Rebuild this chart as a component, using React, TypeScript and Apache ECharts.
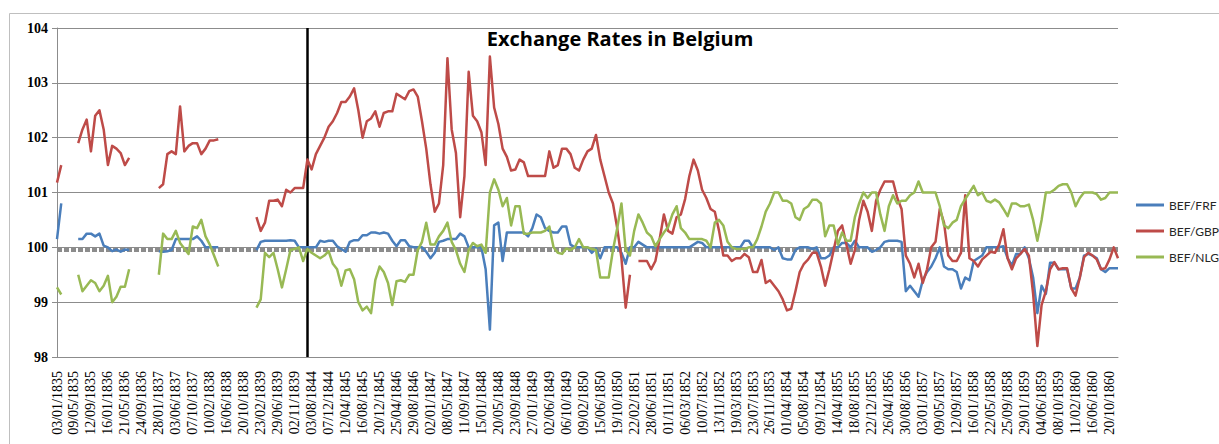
import React, { useEffect, useRef } from "react";
import * as echarts from "echarts";

// Tick labels (one every 4 data steps on the x axis)
const dateLabels = [
  "03/01/1835", "09/05/1835", "12/09/1835", "16/01/1836", "21/05/1836", "24/09/1836",
  "28/01/1837", "03/06/1837", "07/10/1837", "10/02/1838", "16/06/1838", "20/10/1838",
  "23/02/1839", "29/06/1839", "02/11/1839", "03/08/1844", "07/12/1844", "12/04/1845",
  "16/08/1845", "20/12/1845", "25/04/1846", "29/08/1846", "02/01/1847", "08/05/1847",
  "11/09/1847", "15/01/1848", "20/05/1848", "23/09/1848", "27/01/1849", "02/06/1849",
  "06/10/1849", "09/02/1850", "15/06/1850", "19/10/1850", "22/02/1851", "28/06/1851",
  "01/11/1851", "06/03/1852", "10/07/1852", "13/11/1852", "19/03/1853", "23/07/1853",
  "26/11/1853", "01/04/1854", "05/08/1854", "09/12/1854", "14/04/1855", "18/08/1855",
  "22/12/1855", "26/04/1856", "30/08/1856", "03/01/1857", "09/05/1857", "12/09/1857",
  "16/01/1858", "22/05/1858", "25/09/1858", "29/01/1859", "04/06/1859", "08/10/1859",
  "11/02/1860", "16/06/1860", "20/10/1860",
];
const STEPS_PER_LABEL = 4;
const LAST_STEP = 250;
const BREAK_STEP = 58.85;
const PAR_LEVEL = 99.95;

const seriesNames = ["BEF/FRF", "BEF/GBP", "BEF/NLG"];

const frf = [
  100.15, 100.8, null, null, null, 100.15, 100.15, 100.25, 100.25, 100.2,
  100.25, 100.03, 100.0, 99.93, 99.96, 99.92, 99.96, 99.95, null, null,
  null, null, null, null, 99.93, 99.92, 99.93, 99.95, 100.15, 100.15,
  100.15, 100.15, 100.15, 100.2, 100.12, 100.0, 100.0, 100.0, 100.0, null,
  null, null, null, null, null, null, null, 99.95, 100.1, 100.12,
  100.12, 100.12, 100.12, 100.12, 100.12, 100.13, 100.12, 100.0, 100.0, 100.0,
  100.0, 100.0, 100.12, 100.1, 100.12, 100.12, 100.02, 99.97, 99.92, 100.1,
  100.13, 100.13, 100.22, 100.22, 100.27, 100.27, 100.25, 100.27, 100.25, 100.12,
  100.02, 100.13, 100.13, 100.02, 100.0, 100.0, 100.0, 99.92, 99.8, 99.9,
  100.1, 100.12, 100.15, 100.15, 100.15, 100.25, 100.2, 100.0, 100.0, 100.0,
  100.0, 99.6, 98.5, 100.4, 100.45, 99.75, 100.27, 100.27, 100.27, 100.27,
  100.27, 100.2, 100.35, 100.6, 100.55, 100.35, 100.3, 100.27, 100.27, 100.38,
  100.38, 100.05, 100.0, 100.0, 100.0, 100.0, 99.9, 99.98, 99.8, 100.0,
  100.0, 100.0, 100.0, 99.9, 99.7, 100.0, 100.0, 100.1, 100.05, 100.0,
  100.0, 100.0, 100.0, 100.0, 100.0, 100.0, 100.0, 100.0, 100.0, 100.0,
  100.05, 100.1, 100.08, 100.0, 100.0, 100.0, 100.0, 100.0, 100.0, 100.0,
  100.0, 100.0, 100.12, 100.12, 100.0, 100.0, 100.0, 100.0, 100.0, 99.95,
  100.0, 99.8, 99.78, 99.78, 99.95, 100.0, 100.0, 100.0, 99.97, 100.0,
  99.8, 99.8, 99.85, 100.0, 100.0, 100.08, 100.08, 100.0, 100.12, 100.0,
  100.0, 100.0, 99.92, 99.95, 100.0, 100.1, 100.12, 100.12, 100.12, 100.1,
  99.2, 99.3, 99.2, 99.1, 99.4, 99.55, 99.65, 99.8, 100.0, 99.65,
  99.6, 99.6, 99.55, 99.25, 99.45, 99.4, 99.75, 99.8, 99.85, 100.0,
  100.0, 100.0, 100.0, 100.02, 99.8, 99.67, 99.88, 99.88, 100.0, 99.8,
  99.45, 98.8, 99.3, 99.15, 99.72, 99.72, 99.6, 99.6, 99.6, 99.25,
  99.25, 99.45, 99.85, 99.88, 99.85, 99.8, 99.6, 99.55, 99.62, 99.62,
  99.62,
];

const gbp = [
  101.18, 101.5, null, null, null, 101.9, 102.15, 102.33, 101.75, 102.4,
  102.5, 102.15, 101.5, 101.85, 101.8, 101.72, 101.5, 101.63, null, null,
  null, null, null, null, 101.08, 101.15, 101.7, 101.75, 101.7, 102.57,
  101.75, 101.85, 101.9, 101.9, 101.7, 101.8, 101.95, 101.95, 101.97, null,
  null, null, null, null, null, null, null, 100.55, 100.3, 100.45,
  100.85, 100.85, 100.87, 100.75, 101.05, 101.0, 101.08, 101.08, 101.08, 101.6,
  101.42, 101.7, 101.85, 102.0, 102.2, 102.3, 102.45, 102.65, 102.65, 102.75,
  102.9, 102.5, 102.0, 102.3, 102.35, 102.48, 102.2, 102.45, 102.48, 102.48,
  102.8, 102.75, 102.7, 102.85, 102.88, 102.75, 102.3, 101.8, 101.15, 100.65,
  100.8, 101.5, 103.45, 102.15, 101.72, 100.55, 101.3, 103.2, 102.4, 102.3,
  102.1, 101.5, 103.48, 102.55, 102.25, 101.8, 101.65, 101.4, 101.42, 101.6,
  101.55, 101.3, 101.3, 101.3, 101.3, 101.3, 101.75, 101.45, 101.5, 101.8,
  101.8, 101.7, 101.45, 101.4, 101.6, 101.75, 101.8, 102.05, 101.6, 101.3,
  101.0, 100.8, 100.35, 99.8, 98.9, 99.5, null, 99.75, 99.75, 99.75,
  99.6, 99.75, 100.15, 100.6, 100.3, 100.25, 100.55, 100.6, 100.88, 101.3,
  101.6, 101.4, 101.05, 100.9, 100.7, 100.65, 100.3, 99.85, 99.85, 99.75,
  99.8, 99.8, 99.88, 99.82, 99.55, 99.55, 99.77, 99.35, 99.4, 99.3,
  99.2, 99.05, 98.85, 98.88, 99.2, 99.55, 99.7, 99.78, 99.9, 99.9,
  99.65, 99.3, 99.6, 99.95, 100.3, 100.4, 100.05, 99.7, 99.95, 100.5,
  100.85, 100.65, 100.3, 100.85, 101.05, 101.2, 101.2, 101.2, 100.9, 100.7,
  99.85, 99.7, 99.45, 99.7, 99.35, 99.6, 100.0, 100.1, 100.7, 100.45,
  99.85, 99.75, 99.75, 99.9, 100.95, 99.8, 99.75, 99.65, 99.78, 99.85,
  99.92, 99.9, 100.05, 100.33, 99.8, 99.6, 99.8, 99.88, 99.97, 99.85,
  99.15, 98.2, 98.95, 99.2, 99.6, 99.73, 99.6, 99.62, 99.62, 99.25,
  99.12, 99.45, 99.82, 99.9, 99.85, 99.78, 99.6, 99.62, 99.78, 100.0,
  99.8,
];

const nlg = [
  99.27, 99.14, null, null, null, 99.5, 99.2, 99.3, 99.4, 99.35,
  99.2, 99.3, 99.48, 99.0, 99.1, 99.28, 99.28, 99.6, null, null,
  null, null, null, null, 99.5, 100.25, 100.15, 100.15, 100.3, 100.08,
  99.98, 99.88, 100.38, 100.35, 100.5, 100.2, 100.05, 99.85, 99.65, null,
  null, null, null, null, null, null, null, 98.9, 99.05, 99.9,
  99.82, 99.9, 99.6, 99.27, 99.6, 99.95, 99.97, 100.0, 99.75, 99.97,
  99.9, 99.85, 99.8, 99.85, 99.93, 99.7, 99.6, 99.3, 99.58, 99.6,
  99.42, 99.0, 98.85, 98.92, 98.8, 99.4, 99.65, 99.55, 99.35, 98.95,
  99.38, 99.4, 99.37, 99.5, 99.5, 99.95, 100.1, 100.45, 100.05, 100.05,
  100.2, 100.3, 100.45, 100.1, 99.95, 99.7, 99.55, 99.95, 100.08, 100.02,
  100.05, 99.9, 101.0, 101.24, 101.05, 100.75, 100.9, 100.4, 100.75, 100.75,
  100.25, 100.25, 100.27, 100.27, 100.27, 100.3, 100.38, 100.0, 99.9, 99.88,
  99.98, 99.95, 100.0, 100.15, 100.0, 100.0, 99.97, 99.95, 99.45, 99.45,
  99.45, 99.95, 100.35, 100.8, 99.95, 99.85, 100.3, 100.6, 100.45, 100.27,
  100.2, 100.02, 100.15, 100.27, 100.37, 100.6, 100.75, 100.35, 100.27, 100.15,
  100.15, 100.15, 100.15, 100.12, 100.0, 100.45, 100.5, 100.4, 100.1, 100.0,
  99.97, 99.97, 99.97, 100.0, 100.0, 100.15, 100.38, 100.65, 100.8, 101.0,
  101.0, 100.85, 100.85, 100.8, 100.55, 100.5, 100.7, 100.75, 100.87, 100.87,
  100.8, 100.2, 100.4, 100.4, 100.05, 100.27, 100.12, 100.12, 100.55, 100.8,
  101.0, 100.9, 101.0, 101.0, 100.6, 100.3, 100.75, 100.95, 100.8, 100.85,
  100.85, 100.95, 101.0, 101.2, 101.0, 101.0, 101.0, 101.0, 100.75, 100.4,
  100.35, 100.45, 100.5, 100.75, 100.88, 101.0, 101.12, 100.95, 101.0, 100.85,
  100.82, 100.87, 100.82, 100.7, 100.57, 100.8, 100.8, 100.75, 100.75, 100.78,
  100.5, 100.12, 100.5, 101.0, 101.0, 101.05, 101.12, 101.15, 101.15, 101.0,
  100.75, 100.9, 101.0, 101.0, 101.0, 100.97, 100.87, 100.9, 101.0, 101.0,
  101.0,
];

const seriesColors = ["#4a7ebb", "#be4b48", "#98b954"];

const toPairs = (arr: (number | null)[]) =>
  arr.map((v, i) => [i, v === null ? "-" : v]);

export default function App() {
  const ref = useRef<HTMLDivElement>(null);

  useEffect(() => {
    if (!ref.current) return;
    const chart = echarts.init(ref.current, undefined, { renderer: "svg" });
    const dataSets = [frf, gbp, nlg];
    chart.setOption({
      animation: false,
      backgroundColor: "#ffffff",
      graphic: [
        {
          type: "rect",
          silent: true,
          shape: { x: 9.5, y: 13.5, width: 1240, height: 460 },
          style: { fill: "none", stroke: "#bfbfbf", lineWidth: 1 },
          z: -10,
        },
        {
          type: "text",
          x: 620,
          y: 28,
          style: {
            text: "Exchange Rates in Belgium",
            fill: "#000000",
            fontFamily: "Open Sans",
            fontWeight: "bold",
            fontSize: 20,
            textAlign: "center",
            textVerticalAlign: "top",
          },
        },
      ],
      legend: {
        data: seriesNames,
        orient: "vertical",
        left: 1136,
        top: 199,
        padding: 0,
        icon: "rect",
        itemWidth: 28,
        itemHeight: 3,
        itemGap: 14,
        textStyle: { fontSize: 12, fontFamily: "Lato", color: "#262626" },
      },
      grid: { left: 57, right: 101, top: 28, bottom: 87, containLabel: false },
      xAxis: {
        type: "value",
        min: 0,
        max: LAST_STEP,
        interval: STEPS_PER_LABEL,
        axisLine: { show: true, onZero: false, lineStyle: { color: "#8c8c8c", width: 1 } },
        axisTick: { show: false },
        splitLine: { show: false },
        axisLabel: {
          rotate: 90,
          margin: 14,
          showMaxLabel: false,
          fontFamily: "Liberation Serif",
          fontSize: 14,
          color: "#000000",
          formatter: (v: number) => {
            const k = v / STEPS_PER_LABEL;
            return Number.isInteger(k) && dateLabels[k] ? dateLabels[k] : "";
          },
        },
      },
      yAxis: {
        type: "value",
        min: 98,
        max: 104,
        interval: 1,
        axisLine: { show: true, lineStyle: { color: "#8c8c8c", width: 1 } },
        axisTick: { show: true, length: 5, lineStyle: { color: "#8c8c8c" } },
        splitLine: { show: true, lineStyle: { color: "#8c8c8c", width: 1 } },
        axisLabel: {
          margin: 9,
          fontFamily: "Liberation Serif",
          fontWeight: "bold",
          fontSize: 14,
          color: "#000000",
        },
      },
      series: seriesNames.map((name, s) => ({
        name,
        type: "line",
        data: toPairs(dataSets[s]),
        showSymbol: false,
        connectNulls: false,
        color: seriesColors[s],
        lineStyle: { width: 2.5, color: seriesColors[s], join: "round" },
        z: 3 + s,
        ...(s === 0
          ? {
              markLine: {
                silent: true,
                symbol: "none",
                label: { show: false },
                z: 2,
                data: [
                  { yAxis: PAR_LEVEL, lineStyle: { color: "#8c8c8c", type: [5, 2], width: 4 } },
                  { xAxis: BREAK_STEP, lineStyle: { color: "#000000", type: "solid", width: 2.5 } },
                ],
              },
            }
          : {}),
      })),
    });
    return () => chart.dispose();
  }, []);

  return (
    <div
      ref={ref}
      style={{ position: "absolute", left: 0, top: 0, width: 1219, height: 444 }}
    />
  );
}
